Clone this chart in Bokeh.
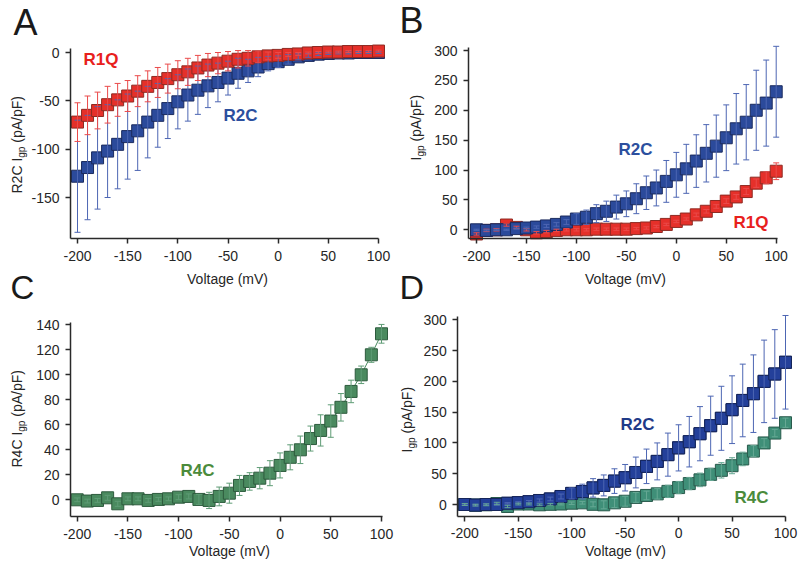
import numpy as np
from bokeh.plotting import figure
from bokeh.models import ColumnDataSource, Whisker, Label, TeeHead, Range1d, FixedTicker
from bokeh.layouts import column, row
from bokeh.embed import file_html
from bokeh.resources import INLINE

FONT = "Liberation Sans"
TXT = "#262626"

# ---------------- data ----------------
voltage = list(range(-200, 101, 10))
x_ticks = [-200, -150, -100, -50, 0, 50, 100]
x_tick_labels = ["-200", "-150", "-100", "-50", "0", "50", "100"]

# Panel A: currents normalised to R2C
a_r1q = [-72, -65, -60, -54, -49, -45, -40, -35, -31, -27, -23, -20, -16, -13, -11, -9,
         -7, -6, -4.5, -3.5, -3, -2, -1.5, -0.5, 0, 0.5, 0.5, 1, 1, 1, 1.5]
a_r1q_err = [20, 20, 19, 19, 17, 16, 16, 16, 15.5, 15, 14.5, 14, 13, 12, 11, 10,
             9, 8, 6, 4, 3, 2, 1.5, 1, 1, 1, 1, 1, 1, 1, 1]
a_r2c = [-128, -119, -109, -102, -95, -87, -81, -72, -65, -58, -51, -44, -39, -34.5, -31, -26.5,
         -21.5, -19, -15, -11.5, -9.5, -7, -4.5, -3, -1.7, -1, -0.5, -0.5, 0, 0, 0]
a_r2c_err = [58, 54, 53, 48, 46, 44, 41, 37, 33, 31, 28, 27, 25, 22.5, 20, 17.5,
             15.5, 12, 10, 7.5, 6, 5, 3, 2, 1.5, 1, 1, 1, 1, 1, 1]
a_y_ticks = [-150, -100, -50, 0]
a_y_tick_labels = ["-150", "-100", "-50", "0"]

# Panel B / D: Igp (pA/pF)
r2c = [0, -1, 0, 0, 2, 3, 4.5, 6.5, 9, 13, 18, 21, 27, 31, 38, 43.5,
       52, 62, 70, 81, 92, 102, 115, 128, 140, 154, 169, 180, 200, 212, 231]
r2c_err = [1, 1, 1, 1, 1, 1.5, 2, 2.5, 3, 4, 9, 12, 15, 17, 20, 21.5,
           25, 28, 30, 35, 37.5, 41, 44, 48, 52, 55, 59, 63, 67, 72, 76]
r1q = [-7, -1, 0, 8, 4, 0, -5, -3, -1, 0, 0, 0, 1, 1, 1, 1,
       2, 3, 5.5, 9, 14, 18, 25, 31, 39, 48, 55, 64, 78, 87, 98]
r1q_err = [2, 2, 2, 2, 2, 2, 2, 2, 2, 2, 2, 2, 2, 2, 2, 2,
           2, 2, 2, 2, 2, 2, 3, 3, 3, 4, 4, 5, 7, 10, 14]
b_y_ticks = [0, 50, 100, 150, 200, 250, 300]
b_y_tick_labels = ["0", "50", "100", "150", "200", "250", "300"]

# Panel C / D: R4C
r4c = [0, -1, -0.5, 1.6, -3.2, 0.8, 0.8, -0.5, 0.3, 0.8, 2.1, 2.7, 0.3, -0.5, 2.7, 5.3,
       11.5, 14.7, 17.3, 21.3, 27.5, 34, 40, 49, 55.5, 63, 74, 86.7, 100, 116, 132.8]
r4c_err = [1.5, 1.5, 1.5, 2, 2, 1.5, 1.5, 1.5, 1.5, 1.5, 2, 2, 4, 6.5, 7.5, 8,
           8, 7, 8.5, 10, 10, 10, 11, 10, 12.5, 13, 11, 9, 7, 6, 7.5]
c_y_ticks = [0, 20, 40, 60, 80, 100, 120, 140]
c_y_tick_labels = ["0", "20", "40", "60", "80", "100", "120", "140"]

TOP_H, BOT_H, COL_W = 267, 298, 400
ORIGIN = {}


def make_fig(ox, oy, w, h, xcal, ycal, axpx, yticks, ylabels):
    """xcal/ycal: two (value, page pixel) pairs; axpx: page px of axis lines (left, right, top, bottom)."""
    (v0, p0), (v1, p1) = xcal
    sx = (p1 - p0) / (v1 - v0)
    x_start = v0 - (p0 - ox) / sx
    x_end = x_start + w / sx
    (u0, q0), (u1, q1) = ycal
    sy = (q0 - q1) / (u1 - u0)
    y_top = u0 + (q0 - oy) / sy
    y_bot = y_top - h / sy
    xd = lambda px: v0 + (px - p0) / sx
    yd = lambda py: u0 + (q0 - py) / sy
    l, r, t, b = axpx
    p = figure(width=w, height=h, x_range=Range1d(x_start, x_end), y_range=Range1d(y_bot, y_top),
               output_backend="svg", toolbar_location=None,
               min_border_left=0, min_border_right=0, min_border_top=0, min_border_bottom=0)
    p.min_border = 0
    p.xgrid.visible = False
    p.ygrid.visible = False
    p.outline_line_color = None
    p.background_fill_color = "white"
    p.border_fill_color = "white"
    p.xaxis.ticker = FixedTicker(ticks=x_ticks)
    p.xaxis.major_label_overrides = {t_: l_ for t_, l_ in zip(x_ticks, x_tick_labels)}
    p.yaxis.ticker = FixedTicker(ticks=yticks)
    p.yaxis.major_label_overrides = {t_: l_ for t_, l_ in zip(yticks, ylabels)}
    p.xaxis.fixed_location = yd(b)
    p.yaxis.fixed_location = xd(l)
    p.xaxis.bounds = (xd(l), xd(r))
    p.yaxis.bounds = (yd(b), yd(t))
    for ax in (p.xaxis[0], p.yaxis[0]):
        ax.axis_line_color = "#2a2a2a"
        ax.axis_line_width = 1.5
        ax.major_tick_line_color = "#2a2a2a"
        ax.major_tick_line_width = 1.5
        ax.major_tick_out = 5
        ax.major_tick_in = 0
        ax.minor_tick_out = 0
        ax.minor_tick_in = 0
        ax.major_label_text_font = FONT
        ax.major_label_text_font_size = "14px"
        ax.major_label_text_color = TXT
    p.xaxis.major_label_standoff = 7
    p.yaxis.major_label_standoff = 6
    ORIGIN[id(p)] = (ox, oy, h)
    return p


def series(p, y, err, fill, edge, wcolor, whiskers=True, line=True):
    x = np.array(voltage, dtype=float)
    y = np.array(y, dtype=float)
    e = np.array(err, dtype=float)
    src = ColumnDataSource(dict(x=x, y=y, lo=y - e, hi=y + e))
    if whiskers:
        wk = Whisker(source=src, base="x", upper="hi", lower="lo", dimension="height",
                     line_color=wcolor, line_width=1, level="glyph",
                     upper_head=TeeHead(size=6, line_color=wcolor, line_width=1),
                     lower_head=TeeHead(size=6, line_color=wcolor, line_width=1))
        p.add_layout(wk)
    if line:
        p.line("x", "y", source=src, line_color=fill, line_width=1)
    p.scatter("x", "y", source=src, marker="square", size=12,
              fill_color=fill, line_color=edge, line_width=1)


MID = 0.35  # distance from text centre line to baseline, in em


def txt(p, px, py, s, size, color, bold=False, angle=0, align="left"):
    """px, py: page position of the text's baseline start (or centre for align='center')."""
    ox, oy, h = ORIGIN[id(p)]
    if angle == 0:
        ax_, ay_ = px, py - MID * size
    else:
        ax_, ay_ = px - MID * size, py
    p.add_layout(Label(x=ax_ - ox, y=oy + h - ay_, x_units="screen", y_units="screen", text=s,
                       text_font=FONT, text_font_size=f"{size}px", text_color=color,
                       text_font_style="bold" if bold else "normal",
                       angle=angle, angle_units="deg",
                       text_align=align, text_baseline="alphabetic"))


ADV = {"R": 722, "2": 556, "4": 556, "C": 722, " ": 278, "I": 278}


def ylabel(p, bx, by, prefix):
    w1 = sum(ADV[c] for c in prefix) * 14 / 1000
    w2 = 1112 * 10 / 1000
    w_sp = 278 * 14 / 1000
    txt(p, bx, by, prefix, 14, TXT, angle=90)
    txt(p, bx + 3, by - w1, "gp", 10, TXT, angle=90)
    txt(p, bx, by - w1 - w2 - w_sp, "(pA/pF)", 14, TXT, angle=90)


def xlabel(p, cx, by):
    txt(p, cx, by, "Voltage (mV)", 14, TXT, align="center")


RED, RED_E, RED_W = "#e5302a", "#8e2a22", "#ea4a4a"
BLUE, BLUE_E, BLUE_W = "#2b4a9b", "#1b2b5e", "#4d66b3"
GRN, GRN_E, GRN_W = "#4a8a5f", "#2d5a3d", "#5f9c76"
TEAL, TEAL_E, TEAL_W = "#3f8f78", "#295a4c", "#66a894"
NAVY, NAVY_E = "#24409a", "#15255a"
LET = "#1a1a1a"

# ---------------- A ----------------
pa = make_fig(0, 0, COL_W, TOP_H, ((-200, 77), (100, 378)), ((0, 52), (-150, 197)),
              (70, 378, 48, 238), a_y_ticks, a_y_tick_labels)
series(pa, a_r2c, a_r2c_err, BLUE, BLUE_E, BLUE_W)
series(pa, a_r1q, a_r1q_err, RED, RED_E, RED_W)
txt(pa, 83, 65, "R1Q", 17, "#e8201c", bold=True)
txt(pa, 223, 120.5, "R2C", 17, "#2c4f9e", bold=True)
ylabel(pa, 21, 193, "R2C I")
txt(pa, 13, 35, "A", 36, LET)

# ---------------- B ----------------
pb = make_fig(COL_W, 0, COL_W, TOP_H, ((-200, 476), (100, 775.7)), ((0, 229.3), (300, 50)),
              (468, 777, 47, 238), b_y_ticks, b_y_tick_labels)
series(pb, r1q, r1q_err, RED, RED_E, RED_W)
series(pb, r2c, r2c_err, BLUE, BLUE_E, BLUE_W)
txt(pb, 618, 155, "R2C", 17, "#2c4f9e", bold=True)
txt(pb, 733, 228, "R1Q", 17, "#e8201c", bold=True)
ylabel(pb, 420, 160, "I")
txt(pb, 399, 33, "B", 36, LET)

# ---------------- C ----------------
pc = make_fig(0, TOP_H, COL_W, BOT_H, ((-200, 76.7), (100, 381)), ((0, 499.3), (140, 324.3)),
              (70, 381.5, 322, 516), c_y_ticks, c_y_tick_labels)
series(pc, r4c, r4c_err, GRN, GRN_E, GRN_W)
txt(pc, 180, 476, "R4C", 17, "#4b8b3b", bold=True)
ylabel(pc, 21, 467, "R4C I")
xlabel(pc, 227, 283)   # x-axis title of panel A (sits just below the top row)
xlabel(pc, 229, 555)
txt(pc, 10, 298.5, "C", 33, LET)

# ---------------- D ----------------
pd_ = make_fig(COL_W, TOP_H, COL_W, BOT_H, ((-200, 464.3), (100, 785)), ((0, 504), (300, 319.3)),
               (457.3, 785, 316, 515.7), b_y_ticks, b_y_tick_labels)
series(pd_, r2c, r2c_err, NAVY, NAVY_E, BLUE_W)
series(pd_, r4c, r4c_err, TEAL, TEAL_E, TEAL_W)
series(pd_, r2c, r2c_err, NAVY, NAVY_E, BLUE_W, whiskers=False, line=False)
txt(pd_, 620, 430, "R2C", 17, "#1f3a88", bold=True)
txt(pd_, 734, 503, "R4C", 17, "#4b8b3b", bold=True)
ylabel(pd_, 411, 452, "I")
xlabel(pd_, 625, 283)  # x-axis title of panel B
xlabel(pd_, 625, 555)
txt(pd_, 399, 298.5, "D", 34, LET)

layout = column(row(pa, pb), row(pc, pd_))
open("out.html", "w").write(file_html(layout, INLINE))
